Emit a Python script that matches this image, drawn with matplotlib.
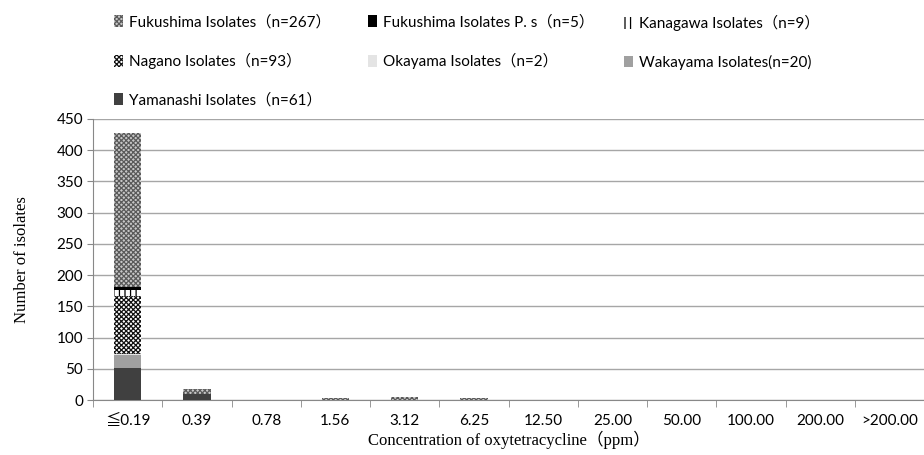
import matplotlib
matplotlib.use('Agg')
import matplotlib.pyplot as plt
import numpy as np

# Data (number of isolates per concentration)
categories = ['≦0.19', '0.39', '0.78', '1.56', '3.12', '6.25', '12.50', '25.00',
              '50.00', '100.00', '200.00', '>200.00']
yamanashi = [52, 9, 0, 0, 0, 0, 0, 0, 0, 0, 0, 0]
wakayama = [20, 0, 0, 0, 0, 0, 0, 0, 0, 0, 0, 0]
okayama = [2, 0, 0, 0, 0, 0, 0, 0, 0, 0, 0, 0]
nagano = [93, 0, 0, 0, 0, 0, 0, 0, 0, 0, 0, 0]
kanagawa = [9, 0, 0, 0, 0, 0, 0, 0, 0, 0, 0, 0]
fukushima_ps = [5, 0, 0, 0, 0, 0, 0, 0, 0, 0, 0, 0]
fukushima = [246, 9, 0, 3, 5, 4, 0, 0, 0, 0, 0, 0]

ui_font = ['Lato', 'Noto Sans CJK JP', 'DejaVu Sans']
serif_font = ['Liberation Serif', 'Noto Sans CJK JP', 'DejaVu Serif']
plt.rcParams['font.family'] = ui_font
plt.rcParams['hatch.linewidth'] = 0.9

fig = plt.figure(figsize=(9.24, 4.55), dpi=100)
ax = fig.add_axes([93 / 924, 1 - 400 / 455, 1 - 93 / 924, (400 - 119) / 455])

x = np.arange(len(categories))
w = 0.4

# stacked from bottom to top
series = [
    ('Yamanashi Isolates（n=61）', yamanashi, dict(color='#404040')),
    ('Wakayama Isolates(n=20)', wakayama, dict(color='#a0a0a0')),
    ('Okayama Isolates（n=2）', okayama, dict(color='#e4e4e4')),
    ('Nagano Isolates（n=93）', nagano, dict(facecolor='white', edgecolor='#111111', hatch='xxxxxxx')),
    ('Kanagawa Isolates（n=9）', kanagawa, dict(facecolor='white', edgecolor='black', hatch='|||')),
    ('Fukushima Isolates P. s（n=5）', fukushima_ps, dict(color='black')),
    ('Fukushima Isolates（n=267）', fukushima, dict(facecolor='#c8c8c8', edgecolor='#5a5a5a', hatch='xxxxxxx')),
]

bottom = np.zeros(len(categories))
handles = {}
for label, vals, style in series:
    vals = np.array(vals, dtype=float)
    bars = ax.bar(x, vals, w, bottom=bottom, linewidth=0, label=label, zorder=3, **style)
    handles[label] = bars
    bottom += vals

ax.set_xlim(-0.5, len(categories) - 0.5)
ax.set_ylim(0, 450)
ax.set_yticks(np.arange(0, 451, 50))
ax.set_xticks(x)
ax.set_xticklabels(categories, fontsize=11)
ax.set_xticks(np.arange(-0.5, len(categories), 1), minor=True)
ax.tick_params(axis='x', which='major', length=0, pad=10)
ax.tick_params(axis='x', which='minor', length=5, color='#888888', direction='out')
ax.tick_params(axis='y', length=4, color='#888888', labelsize=11, pad=3)
ax.yaxis.grid(True, color='#a6a6a6', linewidth=1)
ax.set_axisbelow(True)
for s in ['top', 'right']:
    ax.spines[s].set_visible(False)
for s in ['left', 'bottom']:
    ax.spines[s].set_color('#888888')

ax.set_ylabel('Number of isolates', family=serif_font, fontsize=12, labelpad=19)
ax.set_xlabel('Concentration of oxytetracycline（ppm）', family=serif_font, fontsize=12, labelpad=2)

# legend in three columns, placed separately
columns = [
    (114, ['Fukushima Isolates（n=267）', 'Nagano Isolates（n=93）', 'Yamanashi Isolates（n=61）']),
    (368, ['Fukushima Isolates P. s（n=5）', 'Okayama Isolates（n=2）']),
    (624, ['Kanagawa Isolates（n=9）', 'Wakayama Isolates(n=20)']),
]
for xpos, labels in columns:
    fig.legend([handles[l] for l in labels], labels, loc='upper left',
               bbox_to_anchor=(xpos / 924, 1 - 15 / 455), frameon=False,
               borderpad=0, borderaxespad=0, handlelength=0.6, handleheight=0.8,
               handletextpad=0.4, labelspacing=1.55, prop={'family': ui_font, 'size': 11})

fig.savefig('out.png', dpi=100)
